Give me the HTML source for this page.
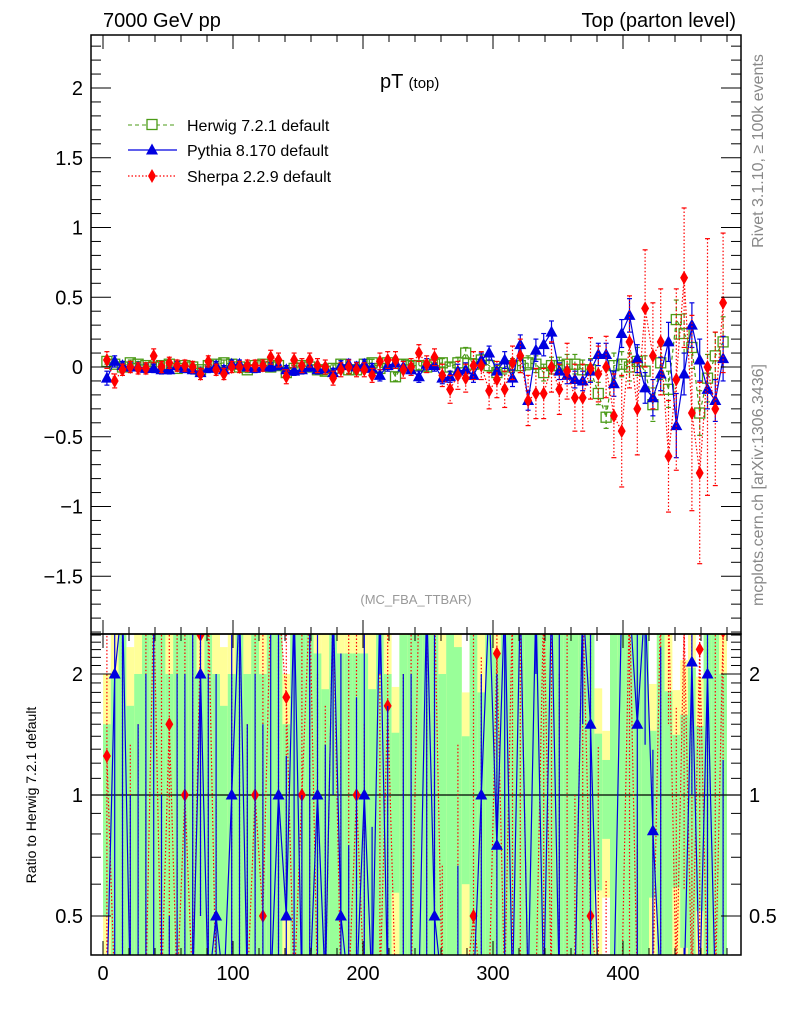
<!DOCTYPE html>
<html><head><meta charset="utf-8"><style>
html,body{margin:0;background:#fff;width:786px;height:1024px;overflow:hidden;}
svg{display:block;font-family:"Liberation Sans",sans-serif;}
</style></head><body>
<svg id="c" width="786" height="1024" xmlns="http://www.w3.org/2000/svg">
<defs>
<clipPath id="mainClip"><rect x="91" y="35" width="650" height="599"/></clipPath>
<clipPath id="ratioClip"><rect x="91" y="634" width="650" height="321"/></clipPath>
</defs>
<g id="ratioBands" clip-path="url(#ratioClip)"></g>
<g id="ratioMarks" clip-path="url(#ratioClip)"></g>
<g id="mainMarks" clip-path="url(#mainClip)"></g>
<g id="axes"></g>
<text x="103" y="27" font-size="20">7000 GeV pp</text>
<text x="736" y="27" font-size="20" text-anchor="end">Top (parton level)</text>
<text x="380" y="88" font-size="20">pT <tspan font-size="15">(top)</tspan></text>
<text x="416" y="604" font-size="13" fill="#999" text-anchor="middle">(MC_FBA_TTBAR)</text>
<text transform="translate(763,151) rotate(-90)" font-size="16" fill="#888" text-anchor="middle">Rivet 3.1.10, ≥ 100k events</text>
<text transform="translate(763,485) rotate(-90)" font-size="16" fill="#888" text-anchor="middle">mcplots.cern.ch [arXiv:1306.3436]</text>
<text transform="translate(36,795) rotate(-90)" font-size="14" text-anchor="middle">Ratio to Herwig 7.2.1 default</text>
<g>
 <g>
  <line x1="128" y1="125" x2="177" y2="125" stroke="#4b9b17" stroke-dasharray="4,3" stroke-width="1"/>
  <rect x="147" y="119.5" width="10" height="10" fill="#fff" stroke="#4b9b17" stroke-width="1.3"/>
  <text x="187" y="131" font-size="16">Herwig 7.2.1 default</text>
 </g>
 <g>
  <line x1="128" y1="150" x2="177" y2="150" stroke="#0000e0" stroke-width="1.3"/>
  <polygon points="152,143.5 158,154.5 146,154.5" fill="#0000e0"/>
  <text x="187" y="156" font-size="16">Pythia 8.170 default</text>
 </g>
 <g>
  <line x1="128" y1="176" x2="177" y2="176" stroke="#f00" stroke-dasharray="1.5,2" stroke-width="1.3"/>
  <polygon points="152,169 156,176 152,183 148,176" fill="#f00"/>
  <text x="187" y="182" font-size="16">Sherpa 2.2.9 default</text>
 </g>
</g>
</svg>
<script>
const binCenters = [];
for (let i = 0; i < 80; i++) binCenters.push(3 + 6 * i);
const herwig = [0.04,0.02,0,0.03,0.02,0.01,0,0.01,0.02,-0.01,0.01,0,-0.02,0.01,0.02,0.03,0.02,0,-0.02,0.01,0.02,0,0.01,-0.04,-0.01,0.01,0,-0.02,-0.03,-0.01,0.02,-0.02,-0.02,0.02,0.03,-0.01,0.03,-0.07,0.02,0.01,
0.01,0,0.02,0.03,0,0.03,0.1,0.02,0.05,0.01,-0.04,0,0.01,0.01,0.03,0.02,-0.04,0.01,0.01,0.02,0.02,-0.02,-0.02,-0.19,-0.36,0.01,0.02,0,0.04,-0.03,-0.27,0.03,-0.16,0.34,0.24,0.14,-0.33,-0.08,0.08,0.18];
const herwigErr = [0.02,0.02,0.02,0.02,0.02,0.02,0.02,0.02,0.02,0.02,0.02,0.02,0.02,0.02,0.02,0.02,0.02,0.02,0.02,0.02,0.02,0.02,0.02,0.02,0.02,0.02,0.02,0.025,0.025,0.025,0.025,0.025,0.025,0.025,0.025,0.025,0.03,0.03,0.03,0.03,
0.03,0.03,0.03,0.03,0.03,0.04,0.04,0.04,0.04,0.04,0.05,0.05,0.05,0.05,0.05,0.06,0.06,0.06,0.06,0.07,0.07,0.07,0.08,0.08,0.08,0.09,0.09,0.1,0.1,0.11,0.12,0.12,0.13,0.14,0.14,0.15,0.16,0.17,0.17,0.18];
const pythia = [-0.08,0.04,0.01,0,0,-0.01,-0.01,-0.02,-0.02,0.01,-0.01,-0.02,-0.04,-0.01,0.01,-0.02,0.02,0.02,0,-0.01,0,0,0.01,-0.02,-0.03,-0.02,0,-0.02,-0.01,-0.04,0.01,0.02,0,0.02,-0.01,-0.06,0.01,0.03,0,-0.02,
-0.07,0.02,0.01,-0.08,-0.07,-0.03,-0.02,-0.06,0.05,0.1,-0.03,0.05,-0.08,0.16,-0.24,0.12,0.16,0.25,-0.03,-0.06,-0.09,-0.1,-0.03,0.09,0.09,-0.12,0.24,0.37,0.06,-0.15,-0.22,-0.05,0.18,-0.42,-0.05,0.3,0.05,-0.16,-0.24,0.06];
const pythiaErr = [0.05,0.04,0.03,0.03,0.03,0.03,0.03,0.03,0.03,0.03,0.03,0.03,0.03,0.03,0.03,0.03,0.03,0.03,0.03,0.03,0.03,0.03,0.03,0.03,0.03,0.03,0.03,0.03,0.03,0.03,0.035,0.035,0.035,0.035,0.035,0.04,0.04,0.04,0.04,0.04,
0.04,0.04,0.04,0.04,0.04,0.05,0.05,0.05,0.05,0.05,0.05,0.06,0.06,0.07,0.07,0.08,0.08,0.08,0.06,0.06,0.06,0.07,0.08,0.08,0.08,0.09,0.1,0.12,0.1,0.11,0.13,0.12,0.14,0.23,0.15,0.16,0.15,0.14,0.15,0.16];
const sherpa = [0.05,-0.1,-0.02,0,-0.01,-0.01,0.08,0,0.03,0.01,0.01,0,-0.05,0.04,-0.02,-0.05,0,0,0.01,0.01,0.01,0.07,0.05,-0.07,0.05,0.01,0.05,0.01,0,-0.08,-0.02,0,-0.02,-0.02,-0.06,0.04,0.05,0.05,-0.02,0,
0.1,0.02,0.07,-0.06,-0.16,-0.06,-0.08,0.01,0.01,-0.17,-0.09,-0.16,0.03,0.08,-0.24,-0.19,-0.19,0,-0.16,-0.03,-0.22,-0.22,-0.01,-0.05,0,-0.35,-0.46,0.18,-0.3,0.42,0.08,0.18,-0.64,-0.09,0.64,-0.33,-0.76,0,-0.3,0.46];
const sherpaErr = [0.06,0.05,0.04,0.04,0.04,0.04,0.05,0.04,0.04,0.04,0.04,0.04,0.04,0.04,0.04,0.04,0.04,0.04,0.04,0.04,0.04,0.05,0.05,0.05,0.05,0.05,0.05,0.05,0.05,0.05,0.05,0.05,0.05,0.05,0.05,0.06,0.06,0.06,0.06,0.06,
0.06,0.06,0.06,0.08,0.1,0.1,0.1,0.1,0.1,0.13,0.13,0.13,0.12,0.12,0.18,0.18,0.18,0.18,0.18,0.2,0.24,0.24,0.22,0.2,0.22,0.3,0.4,0.33,0.33,0.42,0.38,0.38,0.4,0.65,0.5,0.7,0.65,0.92,0.55,0.5];
const yTicksMain = [-1.5,-1,-0.5,0,0.5,1,1.5,2];
const yTickLabelsMain = ["\u22121.5","\u22121","\u22120.5","0","0.5","1","1.5","2"];
const xTicks = [0,100,200,300,400];
const ratioTicks = [0.5,1,2];

const NS = "http://www.w3.org/2000/svg";
const X = d => 103 + 1.3 * d;
const Y = v => 367 - 139.5 * v;
const RY = r => r > 0 ? Math.max(600, Math.min(990, 795 - Math.log2(r) * 121)) : 990;
function mk(tag, attrs, parent) { const e = document.createElementNS(NS, tag); for (const k in attrs) e.setAttribute(k, attrs[k]); parent.appendChild(e); return e; }

const gb = document.getElementById('ratioBands');
binCenters.forEach((c, i) => {
  const e = herwigErr[i] / Math.max(Math.abs(herwig[i]), 0.001);
  const x0 = X(c - 3), w = 1.3 * 6;
  const y1 = mk('rect', {x: x0, y: RY(1 + 2 * e), width: w, height: Math.max(0, RY(1 - 2 * e) - RY(1 + 2 * e)), fill: '#ffff99'}, gb);
  
  
  const g1 = mk('rect', {x: x0, y: RY(1 + e), width: w, height: Math.max(0, RY(1 - e) - RY(1 + e)), fill: '#99ff99'}, gb);
  
  
});
const ref = mk('line', {x1: 91, x2: 741, y1: 795, y2: 795, stroke: '#000', 'stroke-width': 1.2}, gb);



const gr = document.getElementById('ratioMarks');
function drawMarker(g, m, x, y, color, name) {
  let e;
  if (m === 'sq') e = mk('rect', {x: x - 5, y: y - 5, width: 10, height: 10, fill: 'none', stroke: color, 'stroke-width': 1.3}, g);
  else if (m === 'tri') e = mk('polygon', {points: `${x},${y-6.5} ${x+6},${y+4.5} ${x-6},${y+4.5}`, fill: color}, g);
  else e = mk('polygon', {points: `${x},${y-7} ${x+4},${y} ${x},${y+7} ${x-4},${y}`, fill: color}, g);
  
  
}
function ratioSeries(vals, errs, color, dash, marker, name) {
  const pts = [];
  binCenters.forEach((c, i) => {
    const h = herwig[i] === 0 ? 0.001 : herwig[i];
    const r = vals[i] / h, er = errs[i] / Math.abs(h);
    const x = X(c);
    const eb = mk('line', {x1: x, x2: x, y1: RY(r + er), y2: RY(r - er), stroke: color, 'stroke-width': 1.2, 'stroke-dasharray': dash}, gr);
    
    
    pts.push(x + ',' + RY(r));
    drawMarker(gr, marker, x, RY(r), color, name + '-ratio-point');
  });
  const pl = mk('polyline', {points: pts.join(' '), fill: 'none', stroke: color, 'stroke-width': 1.2, 'stroke-dasharray': dash}, gr);
  
  
}
ratioSeries(sherpa, sherpaErr, '#f00', '1.5,2', 'dia', 'sherpa');
ratioSeries(pythia, pythiaErr, '#0000e0', 'none', 'tri', 'pythia');

const gm = document.getElementById('mainMarks');
function mainSeries(vals, errs, color, dash, marker, name) {
  const pts = [];
  binCenters.forEach((c, i) => {
    const x = X(c), y = Y(vals[i]);
    const eb = mk('line', {x1: x, x2: x, y1: Y(vals[i] + errs[i]), y2: Y(vals[i] - errs[i]), stroke: color, 'stroke-width': 1.2, 'stroke-dasharray': dash}, gm);
    
    
    [vals[i] + errs[i], vals[i] - errs[i]].forEach(v => {
      const cap = mk('line', {x1: x - 2.5, x2: x + 2.5, y1: Y(v), y2: Y(v), stroke: color, 'stroke-width': 1.2}, gm);
      
      
    });
    pts.push(x + ',' + y);
  });
  const pl = mk('polyline', {points: pts.join(' '), fill: 'none', stroke: color, 'stroke-width': 1.2, 'stroke-dasharray': dash}, gm);
  
  
  binCenters.forEach((c, i) => drawMarker(gm, marker, X(c), Y(vals[i]), color, name + '-point'));
}
mainSeries(herwig, herwigErr, '#4b9b17', '4,3', 'sq', 'herwig');
mainSeries(pythia, pythiaErr, '#0000e0', 'none', 'tri', 'pythia');
mainSeries(sherpa, sherpaErr, '#f00', '1.5,2', 'dia', 'sherpa');

const ga = document.getElementById('axes');
const f1 = mk('rect', {x: 91, y: 35, width: 650, height: 599, fill: 'none', stroke: '#000', 'stroke-width': 1.5}, ga);


const f2 = mk('rect', {x: 91, y: 634, width: 650, height: 321, fill: 'none', stroke: '#000', 'stroke-width': 1.5}, ga);


for (let k = -19; k <= 23; k++) {
  const v = k / 10, y = Y(v);
  if (y < 35 || y > 634) continue;
  const major = k % 5 === 0, L = major ? 20 : 10;
  mk('line', {x1: 91, x2: 91 + L, y1: y, y2: y, stroke: '#000', 'stroke-width': 1}, ga);
  mk('line', {x1: 741, x2: 741 - L, y1: y, y2: y, stroke: '#000', 'stroke-width': 1}, ga);
}
yTicksMain.forEach((v, i) => {
  const t = mk('text', {x: 83, y: Y(v) + 7, 'font-size': 20, 'text-anchor': 'end'}, ga);
  t.textContent = yTickLabelsMain[i];
  
  
});
for (let d = -20; d <= 490; d += 20) {
  const x = X(d); if (x < 91 || x > 741) continue;
  const major = d % 100 === 0, L = major ? 14 : 7;
  mk('line', {x1: x, x2: x, y1: 35, y2: 35 + L, stroke: '#000'}, ga);
  mk('line', {x1: x, x2: x, y1: 634, y2: 634 - L, stroke: '#000'}, ga);
  mk('line', {x1: x, x2: x, y1: 634, y2: 634 + L, stroke: '#000'}, ga);
  mk('line', {x1: x, x2: x, y1: 955, y2: 955 - L, stroke: '#000'}, ga);
}
xTicks.forEach(d => {
  const t = mk('text', {x: X(d), y: 980, 'font-size': 20, 'text-anchor': 'middle'}, ga);
  t.textContent = d;
  
  
});
[0.4,0.5,0.6,0.7,0.8,0.9,1,1.1,1.2,1.3,1.4,1.5,1.6,1.7,1.8,1.9,2,2.1,2.2,2.3,2.4,2.5].forEach(r => {
  const y = RY(r); if (y < 634 || y > 955) return;
  const major = ratioTicks.includes(r), L = major ? 20 : 10;
  mk('line', {x1: 91, x2: 91 + L, y1: y, y2: y, stroke: '#000'}, ga);
  mk('line', {x1: 741, x2: 741 - L, y1: y, y2: y, stroke: '#000'}, ga);
});
ratioTicks.forEach(r => {
  const t = mk('text', {x: 83, y: RY(r) + 7, 'font-size': 20, 'text-anchor': 'end'}, ga);
  t.textContent = r;
  
  
  const t2 = mk('text', {x: 749, y: RY(r) + 7, 'font-size': 20}, ga);
  t2.textContent = r;
  
  
});
</script>
</body></html>
